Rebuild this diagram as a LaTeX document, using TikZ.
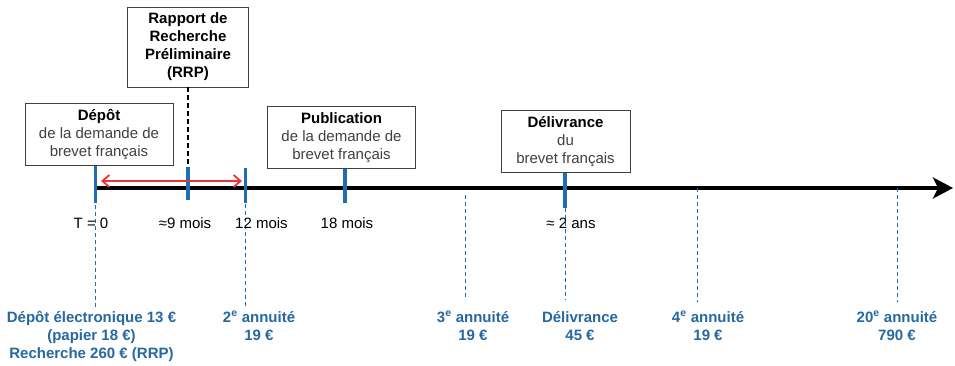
\documentclass[tikz,border=0pt]{standalone}
\usepackage{fontspec}
\setmainfont{Liberation Sans}
\usetikzlibrary{arrows.meta}

\definecolor{tickblue}{RGB}{31,110,178}
\definecolor{feeblue}{RGB}{38,104,160}
\definecolor{boxtext}{RGB}{64,64,64}
\definecolor{spanred}{RGB}{232,52,52}

\tikzset{
    eventbox/.style={draw=boxtext, line width=0.8pt, fill=white, align=center,
        inner xsep=14pt, inner ysep=6pt, text=boxtext,
        font=\fontsize{15}{18}\selectfont},
    ticktext/.style={font=\fontsize{15}{18}\selectfont, inner sep=0pt},
    feetext/.style={align=center, text=feeblue, inner sep=0pt, anchor=north,
        font=\fontsize{15}{18}\selectfont\bfseries},
    tickmark/.style={tickblue, line width=3.5pt},
    guide/.style={tickblue, line width=1pt, dash pattern=on 4pt off 3pt},
}
\newcommand{\boxtitle}[1]{\textcolor{black}{\bfseries #1}}

\begin{document}
\begin{tikzpicture}[x=1pt, y=-1pt]
    \useasboundingbox (0, 0) rectangle (955, 365);

    \coordinate (T0)  at (95.5, 188);
    \coordinate (M9)  at (188, 188);
    \coordinate (M12) at (245.5, 188);
    \coordinate (M18) at (345, 188);
    \coordinate (A3)  at (465, 188);
    \coordinate (Y2)  at (565, 188);
    \coordinate (A4)  at (697, 188);
    \coordinate (A20) at (897, 188);
    \coordinate (End) at (953, 188);
    \coordinate (spanL) at (101, 181);
    \coordinate (spanR) at (242, 181);

    % time axis
    \draw[line width=4pt, -{Stealth[length=20pt, width=21pt, inset=5pt]}] (T0) -- (End);

    % dashed guides
    \draw[guide] (T0) ++(0, 17) -- ++(0, 103);
    \draw[guide] (M12) ++(0, 16) -- ++(0, 104);
    \draw[guide] (A3) ++(0, 7) -- ++(0, 105);
    \draw[guide] (Y2) ++(0, 20) -- ++(0, 92);
    \draw[guide] (A4) -- ++(0, 114);
    \draw[guide] (A20) -- ++(0, 114);

    \node[eventbox, text=black, font=\fontsize{15}{18}\selectfont\bfseries,
        minimum width=121pt] (rrp) at (188, 47) {Rapport de\\Recherche\\Préliminaire\\(RRP)};
    \node[eventbox] (depot) at (99, 134.5) {\boxtitle{Dépôt}\\de la demande de\\brevet français};
    \node[eventbox] (publication) at (341.5, 137.5) {\boxtitle{Publication}\\de la demande de\\brevet français};
    \node[eventbox, minimum width=129pt] (delivrance) at (565.5, 141.5) {\boxtitle{Délivrance}\\du\\brevet français};

    \draw[line width=1.2pt, dash pattern=on 5pt off 3pt] (rrp.south) -- ++(0, 79);

    % ticks
    \draw[tickmark] (depot.south -| T0) -- ++(0, 37);
    \draw[tickmark] (M9) ++(0, -21) -- ++(0, 33);
    \draw[tickmark] (M12) ++(0, -20) -- ++(0, 35);
    \draw[tickmark] (publication.south -| M18) -- ++(0, 34);
    \draw[tickmark] (delivrance.south -| Y2) -- ++(0, 35);

    \draw[spanred, line width=1.8pt,
        {Straight Barb[length=7pt, width=12pt]}-{Straight Barb[length=7pt, width=12pt]}] (spanL) -- (spanR);

    \node[ticktext] (lblT0)  at (91, 223)    {T = 0};
    \node[ticktext] (lblM9)  at (185, 223)   {≈9 mois};
    \node[ticktext] (lblM12) at (261.5, 223) {12 mois};
    \node[ticktext] (lblM18) at (347, 223)   {18 mois};
    \node[ticktext] (lblY2)  at (571, 223)   {≈ 2 ans};

    % fees
    \node[feetext] (feeDepot) at (91.5, 311) {Dépôt électronique 13 €\\(papier 18 €)\\Recherche 260 € (RRP)};
    \node[feetext] (feeA2)  at (259, 311) {2\textsuperscript{e} annuité\\19 €};
    \node[feetext] (feeA3)  at (473, 311) {3\textsuperscript{e} annuité\\19 €};
    \node[feetext] (feeDel) at (580, 311) {Délivrance\\45 €};
    \node[feetext] (feeA4)  at (708, 311) {4\textsuperscript{e} annuité\\19 €};
    \node[feetext] (feeA20) at (897, 311) {20\textsuperscript{e} annuité\\790 €};
\end{tikzpicture}
\end{document}
